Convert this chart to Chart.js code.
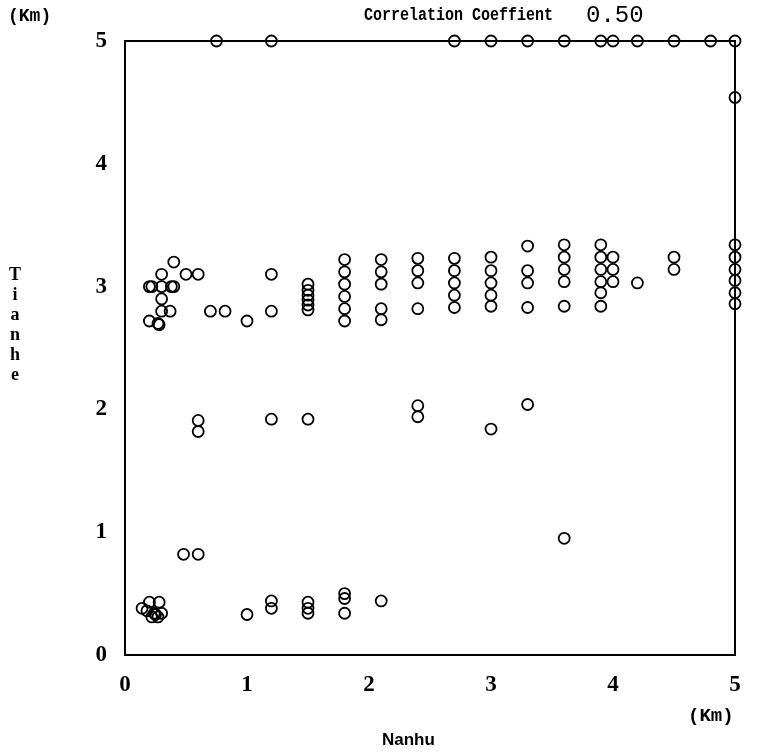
<!DOCTYPE html>
<html>
<head>
<meta charset="utf-8">
<script src="https://cdn.jsdelivr.net/npm/chart.js@4"></script>
<style>
  body { margin: 0; background: #fff; }
  #wrap { position: relative; width: 758px; height: 754px; }
  .lbl { position: absolute; color: #000; font-family: 'Liberation Mono', monospace; font-weight: bold; white-space: nowrap; }
</style>
</head>
<body>
<div id="wrap">
  <canvas id="scatter" width="758" height="754"></canvas>
  <div class="lbl" style="left:8px; top:6px; font-size:18px;">(Km)</div>
  <div class="lbl" style="left:8px; top:264px; font-size:18px; line-height:20px; width:14px; text-align:center; font-family:'Liberation Serif', serif;">T<br>i<br>a<br>n<br>h<br>e</div>
  <div class="lbl" style="left:364px; top:5px; font-size:15px; transform:scaleY(1.25); transform-origin:left top;">Correlation Coeffient</div>
  <div class="lbl" style="left:586px; top:2px; font-size:24px; font-weight:normal;">0.50</div>
  <div class="lbl" style="left:688px; top:705px; font-size:19px;">(Km)</div>
  <div class="lbl" style="left:382px; top:730px; font-size:17px; font-family:'Liberation Sans Narrow', 'Liberation Sans', sans-serif;">Nanhu</div>
</div>
<script>
// distance data (Km)
const nanhu = [
  // top row at 5 km
  0.75, 1.2, 2.7, 3.0, 3.3, 3.6, 3.9, 4.0, 4.2, 4.5, 4.8, 5.0, 5.0,
  // near 3 km, left cluster
  0.4, 0.3, 0.5, 0.6, 0.2, 0.22, 0.3, 0.38, 0.4, 0.3, 0.3, 0.37, 0.2, 0.27, 0.28, 0.7, 0.82, 1.0, 1.2, 1.2,
  // near 3 km, columns
  1.5, 1.5, 1.5, 1.5, 1.5, 1.5,
  1.8, 1.8, 1.8, 1.8, 1.8, 1.8,
  2.1, 2.1, 2.1, 2.1, 2.1,
  2.4, 2.4, 2.4, 2.4,
  2.7, 2.7, 2.7, 2.7, 2.7,
  3.0, 3.0, 3.0, 3.0, 3.0,
  3.3, 3.3, 3.3, 3.3,
  3.6, 3.6, 3.6, 3.6, 3.6,
  3.9, 3.9, 3.9, 3.9, 3.9, 3.9,
  4.0, 4.0, 4.0,
  4.2,
  4.5, 4.5,
  5.0, 5.0, 5.0, 5.0, 5.0, 5.0,
  // middle
  0.6, 0.6, 1.2, 1.5, 2.4, 2.4, 3.0, 3.3, 3.6, 0.48, 0.6,
  // bottom
  0.14, 0.2, 0.28, 0.18, 0.24, 0.3, 0.22, 0.27, 0.25, 1.0, 1.2, 1.2, 1.5, 1.5, 1.5, 1.8, 1.8, 1.8, 2.1
];
const tianhe = [
  5.0, 5.0, 5.0, 5.0, 5.0, 5.0, 5.0, 5.0, 5.0, 5.0, 5.0, 5.0, 4.54,
  3.2, 3.1, 3.1, 3.1, 3.0, 3.0, 3.0, 3.0, 3.0, 2.9, 2.8, 2.8, 2.72, 2.7, 2.69, 2.8, 2.8, 2.72, 3.1, 2.8,
  3.02, 2.97, 2.93, 2.89, 2.85, 2.81,
  3.22, 3.12, 3.02, 2.92, 2.82, 2.72,
  3.22, 3.12, 3.02, 2.82, 2.73,
  3.23, 3.13, 3.03, 2.82,
  3.23, 3.13, 3.03, 2.93, 2.83,
  3.24, 3.13, 3.03, 2.93, 2.84,
  3.33, 3.13, 3.03, 2.83,
  3.34, 3.24, 3.14, 3.04, 2.84,
  3.34, 3.24, 3.14, 3.04, 2.95, 2.84,
  3.24, 3.14, 3.04,
  3.03,
  3.24, 3.14,
  3.34, 3.24, 3.14, 3.05, 2.95, 2.86,
  1.91, 1.82, 1.92, 1.92, 2.03, 1.94, 1.84, 2.04, 0.95, 0.82, 0.82,
  0.38, 0.43, 0.43, 0.36, 0.34, 0.34, 0.31, 0.31, 0.33, 0.33, 0.44, 0.38, 0.43, 0.38, 0.34, 0.5, 0.46, 0.34, 0.44
];
const xTicks = [0, 1, 2, 3, 4, 5];
const yTicks = [0, 1, 2, 3, 4, 5];

const points = nanhu.map((x, i) => ({ x: x, y: tianhe[i] }));

// black frame round the plot area
const framePlugin = {
  id: 'frame',
  beforeDatasetsDraw(chart) {
    const a = chart.chartArea;
    const ctx = chart.ctx;
    ctx.save();
    ctx.strokeStyle = '#000';
    ctx.lineWidth = 2;
    ctx.strokeRect(a.left, a.top, a.right - a.left, a.bottom - a.top);
    ctx.restore();
  }
};

const tickFont = { family: "'Liberation Serif', serif", size: 23, weight: 'bold' };

new Chart(document.getElementById('scatter'), {
  type: 'scatter',
  data: {
    datasets: [{
      data: points,
      pointStyle: 'circle',
      pointRadius: 5.5,
      pointBorderWidth: 1.8,
      pointBorderColor: '#000',
      pointBackgroundColor: 'rgba(255,255,255,0)',
      clip: false
    }]
  },
  options: {
    responsive: false,
    animation: false,
    layout: { padding: { left: 0, right: 23, top: 41, bottom: 0 } },
    plugins: { legend: { display: false }, tooltip: { enabled: false } },
    scales: {
      x: {
        type: 'linear', min: 0, max: 5,
        afterFit: s => { s.height = 99; },
        afterBuildTicks: s => { s.ticks = xTicks.map(v => ({ value: v })); },
        grid: { display: false },
        border: { display: false },
        ticks: { color: '#000', font: tickFont, padding: 8, maxRotation: 0 }
      },
      y: {
        type: 'linear', min: 0, max: 5,
        afterFit: s => { s.width = 125; },
        afterBuildTicks: s => { s.ticks = yTicks.map(v => ({ value: v })); },
        grid: { display: false },
        border: { display: false },
        ticks: { color: '#000', font: tickFont, padding: 10 }
      }
    }
  },
  plugins: [framePlugin]
});
</script>
</body>
</html>
